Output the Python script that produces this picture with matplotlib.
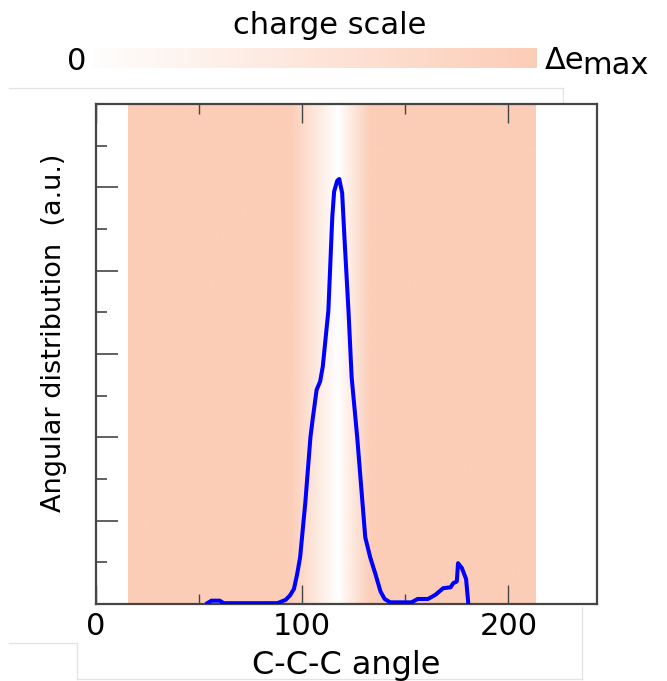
import numpy as np
import matplotlib
matplotlib.use("Agg")
import matplotlib.pyplot as plt
from matplotlib.colors import LinearSegmentedColormap
from matplotlib.lines import Line2D

# ================================
# Data
# ================================
angle = [54, 56, 60, 62, 75, 88, 92, 94, 96, 97.5, 99, 101.5, 104, 105, 107,
         108.7, 110, 112.7, 114.6, 115.5, 117, 118, 119.4, 120.5, 121.5, 122.5,
         124, 126.7, 130.6, 133, 135.4, 138, 140, 142.7, 153, 156, 161, 164.6,
         168.4, 172, 173.3, 175, 175.6, 177.5, 179.5, 180.6]
dist = [0.01, 0.04, 0.04, 0.01, 0.01, 0.01, 0.05, 0.10, 0.18, 0.35, 0.56, 1.21,
        2.0, 2.2, 2.57, 2.67, 2.85, 3.52, 4.64, 4.95, 5.08, 5.1, 4.93, 4.4, 3.95,
        3.5, 2.72, 2.0, 0.8, 0.56, 0.37, 0.15, 0.06, 0.02, 0.02, 0.06, 0.06, 0.11,
        0.19, 0.2, 0.25, 0.27, 0.49, 0.43, 0.3, 0.0]

# charge band behind the curve
band_start, band_end = 15.5, 213
charge_center = 117
charge_width_low, charge_width_high = 23, 16

x_ticks = [0, 100, 200]
x_minor = [50, 150]
y_major = [0, 1, 2, 3, 4, 5, 6]
y_minor = [0.5, 1.5, 2.5, 3.5, 4.5, 5.5]

salmon = "#fccdb7"
spine_col = "#454545"
cmap = LinearSegmentedColormap.from_list("charge", ["#ffffff", salmon])

# ================================
# Figure
# ================================
W, H = 667, 681
fig = plt.figure(figsize=(W / 100, H / 100), dpi=100)


def fx(px):
    return px / W


def fy(py):
    return 1 - py / H


ax = fig.add_axes([fx(96), fy(604), fx(597) - fx(96), fy(104) - fy(604)])

# background charge gradient
xs = np.linspace(band_start, band_end, 800)
charge = np.where(xs < charge_center,
                  np.clip((charge_center - xs) / charge_width_low, 0, 1),
                  np.clip((xs - charge_center) / charge_width_high, 0, 1))
ax.imshow(charge[np.newaxis, :], cmap=cmap, vmin=0, vmax=1, aspect="auto",
          extent=[band_start, band_end, 0, 6], interpolation="bilinear", zorder=0)

ax.plot(angle, dist, color="#0000ff", lw=2.9, zorder=3)

ax.set_xlim(0, 243)
ax.set_ylim(0, 6)
ax.set_xticks(x_ticks)
ax.set_xticks(x_minor, minor=True)
ax.set_xticklabels([str(t) for t in x_ticks], fontsize=22)
ax.set_yticks(y_major)
ax.set_yticks(y_minor, minor=True)
ax.set_yticklabels([])
ax.tick_params(axis="x", which="major", direction="in", length=14, width=1,
               color=spine_col, top=True, pad=6)
ax.tick_params(axis="x", which="minor", direction="in", length=7, width=1,
               color=spine_col, top=True)
ax.tick_params(axis="y", which="major", direction="in", length=16, width=1.2,
               color=spine_col, right=False)
ax.tick_params(axis="y", which="minor", direction="in", length=8, width=1.2,
               color=spine_col, right=False)
for s in ax.spines.values():
    s.set_color(spine_col)
    s.set_linewidth(1.6)

ax.set_xlabel("C-C-C angle", fontsize=23, labelpad=6)
ax.set_ylabel("Angular distribution  (a.u.)", fontsize=19.5)
ax.yaxis.set_label_coords(-0.057, 0.542)

# ================================
# Charge scale bar on top
# ================================
cax = fig.add_axes([fx(93), fy(68), fx(537) - fx(93), fy(48) - fy(68)])
cax.imshow(np.linspace(0.03, 1, 256)[np.newaxis, :], cmap=cmap, vmin=0, vmax=1,
           aspect="auto")
cax.axis("off")
fig.text(fx(330), fy(26), "charge scale", fontsize=22, ha="center", va="center")
fig.text(fx(77), fy(62), "0", fontsize=22, ha="center", va="center")
fig.text(fx(545), fy(69), "Δe", fontsize=22, ha="left", va="baseline")
fig.text(fx(582), fy(74), "max", fontsize=22, ha="left", va="baseline")

# faint frame lines from the original composite
faint = "#e3e3e3"
for xs_, ys_ in [([9, 563], [88, 88]), ([563, 563], [88, 604]),
                 ([9, 77], [643, 643]), ([77, 77], [643, 679]),
                 ([77, 582], [679, 679]), ([582, 582], [607, 679])]:
    fig.add_artist(Line2D([fx(v) for v in xs_], [fy(v) for v in ys_],
                          color=faint, lw=0.9, zorder=-1))

fig.savefig("out.png", dpi=100)
